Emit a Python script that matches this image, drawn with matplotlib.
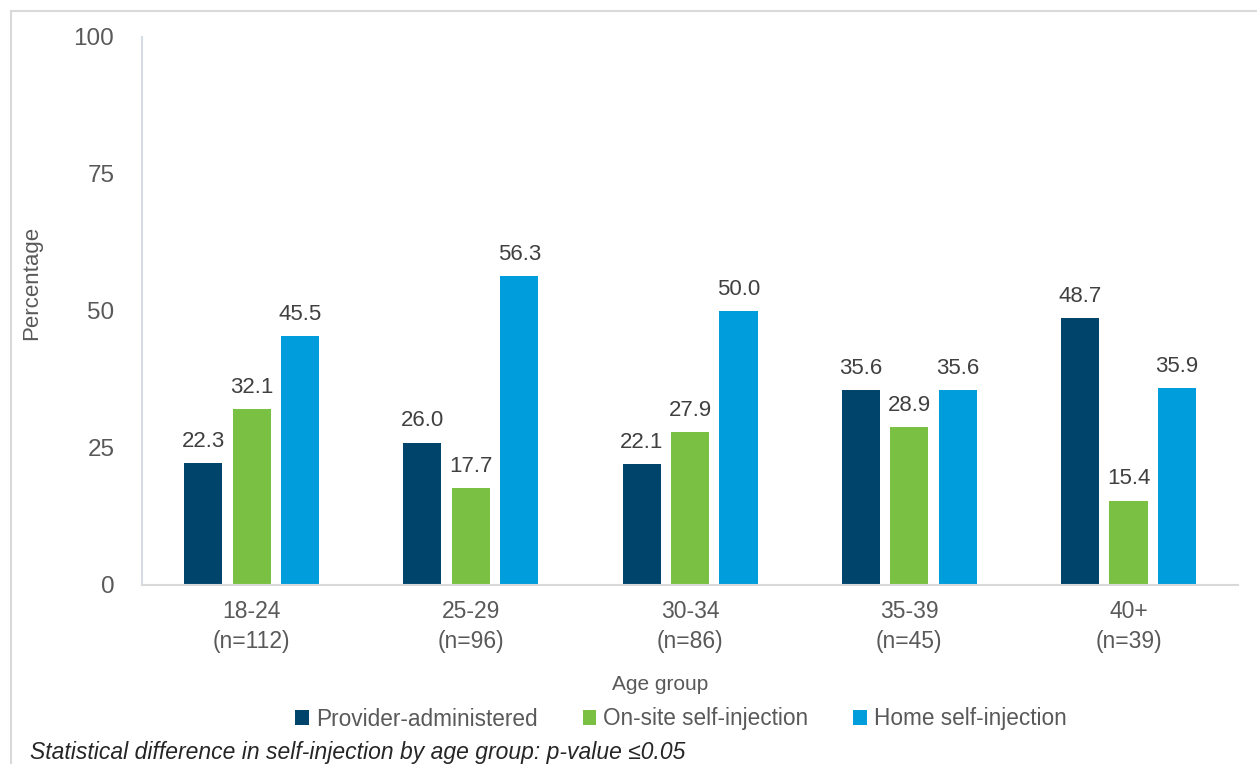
import matplotlib.pyplot as plt
import numpy as np
from matplotlib.patches import Rectangle

groups = ["18-24\n(n=112)", "25-29\n(n=96)", "30-34\n(n=86)", "35-39\n(n=45)", "40+\n(n=39)"]
series_names = ["Provider-administered", "On-site self-injection", "Home self-injection"]
provider = [22.3, 26.0, 22.1, 35.6, 48.7]
onsite = [32.1, 17.7, 27.9, 28.9, 15.4]
home = [45.5, 56.3, 50.0, 35.6, 35.9]
colors = ["#00446C", "#7AC143", "#009DDC"]
yticks = [0, 25, 50, 75, 100]

plt.rcParams['font.family'] = ['Liberation Sans', 'DejaVu Sans']
text_color = "#595959"

fig = plt.figure(figsize=(12.57, 7.64), dpi=100)
ax = fig.add_axes([0.113, 0.2343, 0.872, 0.7173])

# light frame around the chart (cropped on right and bottom)
fig.patches.append(Rectangle((11 / 1257, -0.1), 1.2, 1.1 - 11 / 764,
                             transform=fig.transFigure, fill=False,
                             edgecolor="#D9D9D9", linewidth=1.5))

x = np.arange(len(groups))
width = 0.174
offset = 0.221
for i, (vals, name) in enumerate(zip([provider, onsite, home], series_names)):
    pos = x + (i - 1) * offset
    bars = ax.bar(pos, vals, width, color=colors[i], label=name, zorder=2)
    for b, v in zip(bars, vals):
        ax.annotate(f"{v:.1f}", (b.get_x() + b.get_width() / 2, v),
                    xytext=(0, 8), textcoords="offset points",
                    ha="center", va="bottom", fontsize=16, color="#404040")

ax.set_xlim(-0.5, len(groups) - 0.5)
ax.set_ylim(0, 100)
ax.set_yticks(yticks)
ax.set_xticks(x)
ax.set_xticklabels(groups, linespacing=1.4)
ax.tick_params(axis="both", length=0, labelsize=16.5, labelcolor=text_color)
ax.tick_params(axis="y", labelsize=17.5, pad=20)
ax.tick_params(axis="x", pad=11)

for s in ["top", "right"]:
    ax.spines[s].set_visible(False)
ax.spines["left"].set_color("#D6DCE4")
ax.spines["left"].set_linewidth(1.5)
ax.spines["bottom"].set_color("#D9D9D9")
ax.spines["bottom"].set_linewidth(1.5)

fig.text(32 / 1257, 1 - 283 / 764, "Percentage", rotation=90, ha="center", va="center",
         fontsize=16, color=text_color)
fig.text(660 / 1257, 1 - 685 / 764, "Age group", ha="center", va="center",
         fontsize=15, color=text_color)

leg = fig.legend(loc="center", bbox_to_anchor=(681 / 1257, 1 - 719 / 764), ncol=3,
                 frameon=False, fontsize=16.3, handlelength=0.6, handleheight=0.6,
                 handletextpad=0.3, columnspacing=2.0, labelcolor=text_color)

fig.text(30 / 1257, 1 - 752 / 764, "Statistical difference in self-injection by age group: p-value \u22640.05",
         ha="left", va="center", fontsize=16.5, style="italic", color="#262626")

fig.savefig("out.png", dpi=100)
